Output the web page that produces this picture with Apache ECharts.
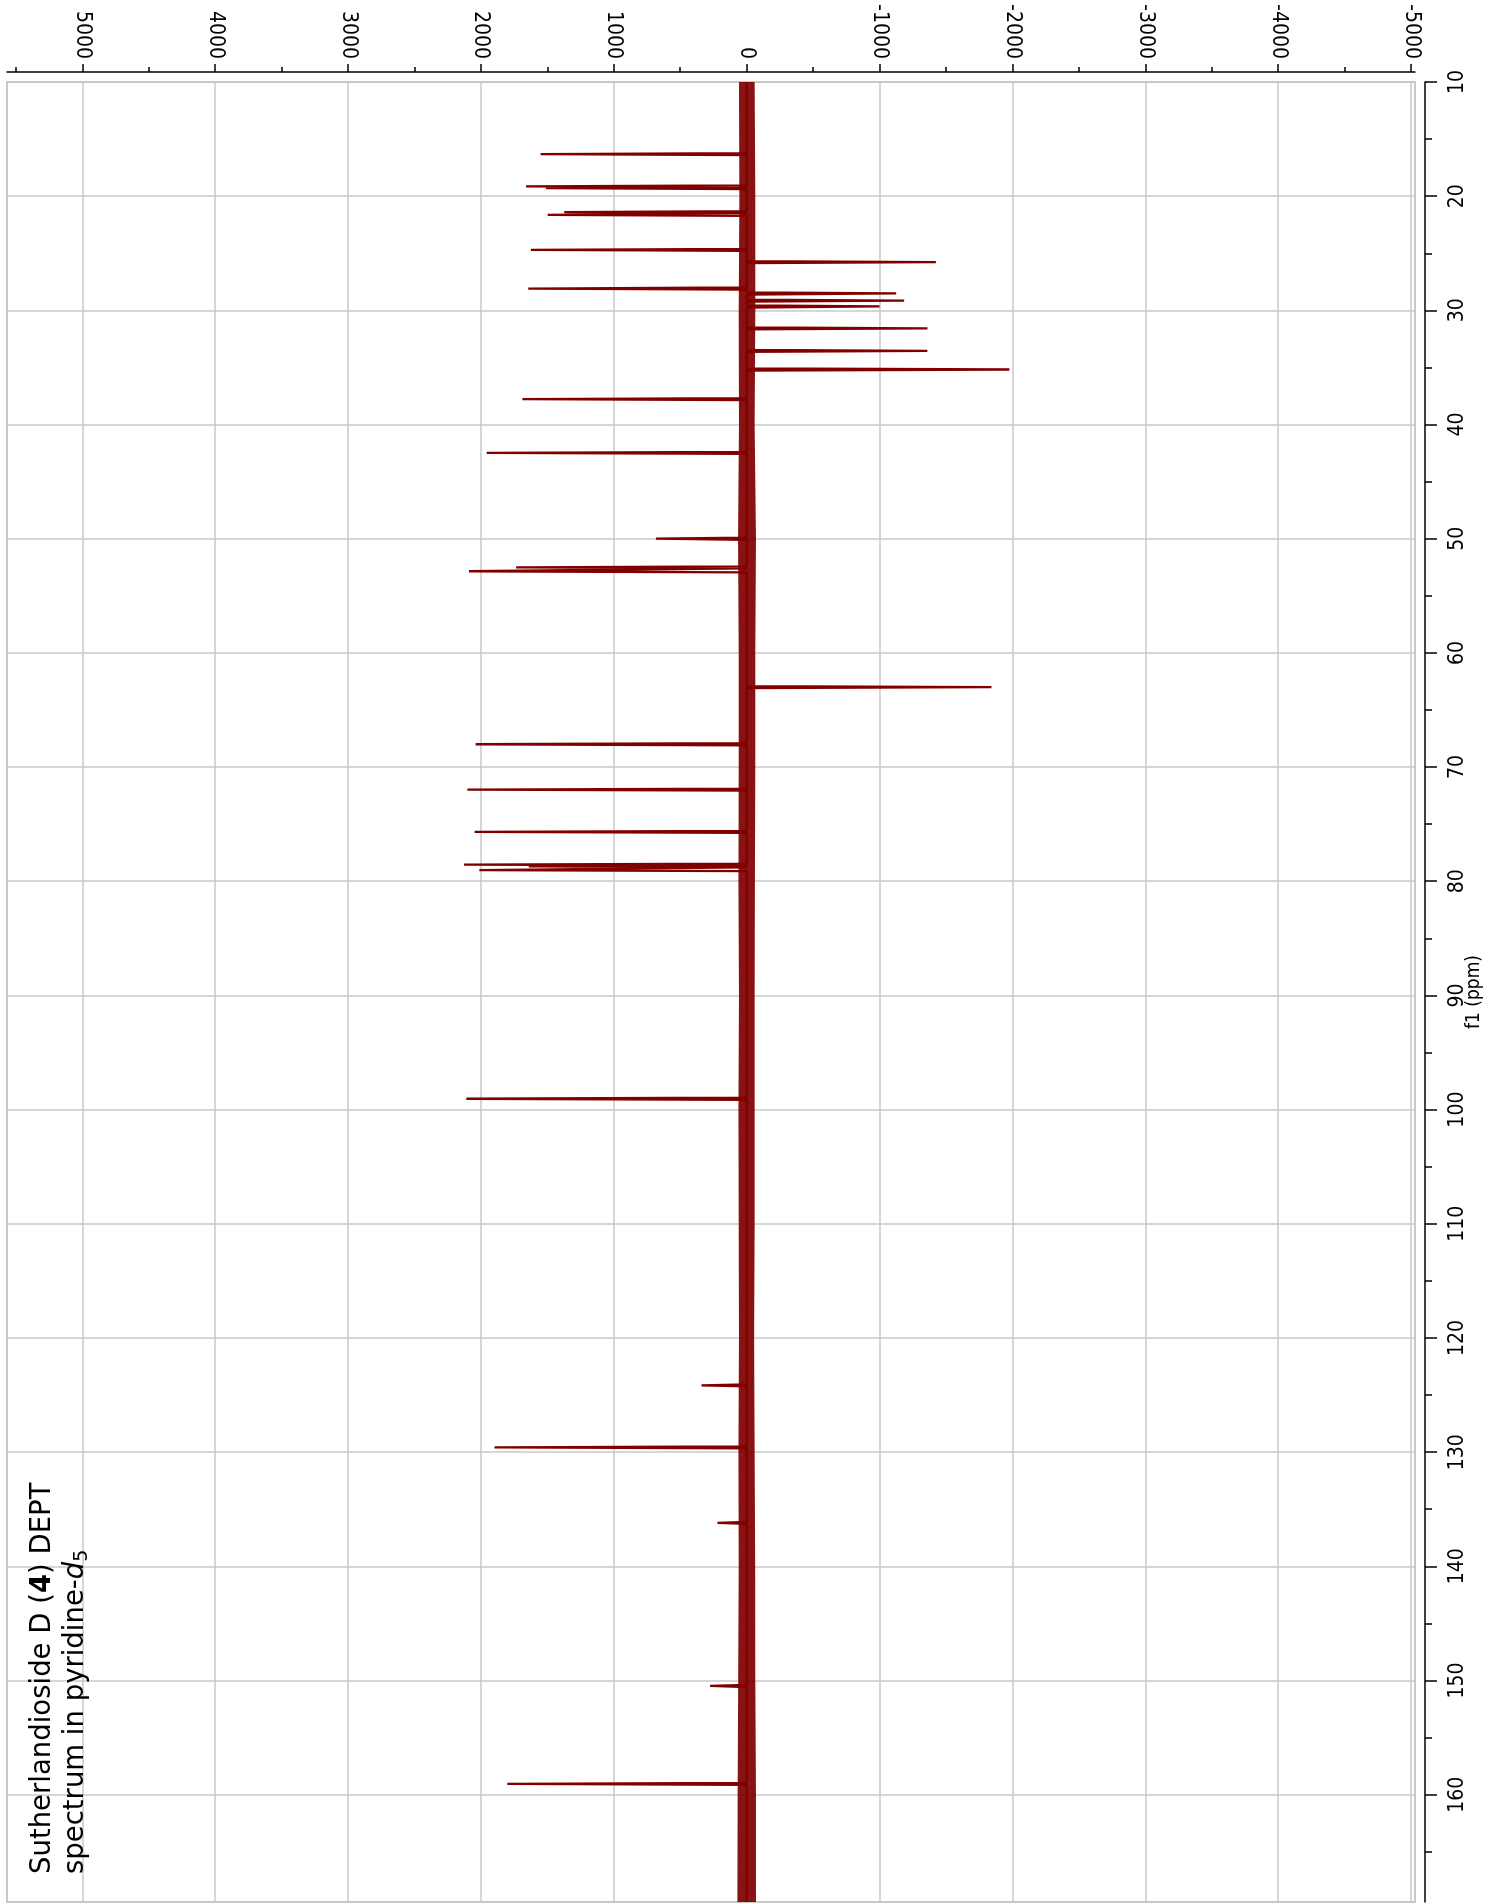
<!DOCTYPE html>
<html>
<head>
<meta charset="utf-8">
<script src="https://cdn.jsdelivr.net/npm/echarts@6/dist/echarts.min.js"></script>
<style>
html,body{margin:0;padding:0;background:#ffffff;}
#chart{width:1489px;height:1904px;}
</style>
</head>
<body>
<div id="chart"></div>
<script>
// ---- Data ----
// Peak positions (ppm) and intensities (positive = CH/CH3, negative = CH2)
const peakPpm = [16.32, 19.15, 19.30, 21.40, 21.64, 24.70, 25.78, 28.09, 28.52, 29.15, 29.66,
                 31.58, 33.55, 35.18, 37.77, 42.48, 50.00, 52.51, 52.85, 63.00, 68.00, 71.98,
                 75.67, 78.55, 78.70, 79.03, 99.05, 124.15, 129.58, 136.20, 150.48, 159.05];
const peakIntensity = [1551, 1661, 1511, 1373, 1498, 1624, -1424, 1644, -1125, -1185, -1000,
                       -1361, -1360, -1977, 1688, 1957, 683, 1735, 2090, -1842, 2040, 2102,
                       2048, 2127, 1640, 2012, 2110, 340, 1898, 220, 275, 1802];
// Baseline noise envelope (ppm, upper and lower intensity of the noise band)
const noisePpm  = [10, 20, 30, 40, 50, 60, 70, 80, 90, 100, 110, 120, 130, 140, 150, 160, 170];
const noiseHigh = [58, 55, 60, 58, 65, 60, 60, 62, 58, 62, 60, 58, 62, 60, 64, 68, 70];
const noiseLow  = [-60, -65, -65, -60, -70, -65, -65, -62, -60, -60, -60, -56, -60, -64, -65, -70, -70];
// Axis tick / label values
const intensityLabelValues = [-5000, -4000, -3000, -2000, -1000, 0, 1000, 2000, 3000, 4000, 5000];
const intensityTickValues = [-5000, -4500, -4000, -3500, -3000, -2500, -2000, -1500, -1000, -500, 0,
                             500, 1000, 1500, 2000, 2500, 3000, 3500, 4000, 4500, 5000, 5500];
const ppmLabelValues = [10, 20, 30, 40, 50, 60, 70, 80, 90, 100, 110, 120, 130, 140, 150, 160];
const ppmTickValues = [10, 15, 20, 25, 30, 35, 40, 45, 50, 55, 60, 65, 70, 75, 80, 85, 90, 95, 100,
                       105, 110, 115, 120, 125, 130, 135, 140, 145, 150, 155, 160, 165];

// ---- Build spectrum trace from peaks ----
const PPM_MIN = 10, PPM_MAX = 169.4;
const INT_MIN = -5030, INT_MAX = 5567;
const HALF = 0.09;
const spectrum = [[0, PPM_MIN]];
peakPpm.forEach(function (p, i) {
  spectrum.push([0, p - HALF]);
  spectrum.push([peakIntensity[i], p]);
  spectrum.push([0, p + HALF]);
});
spectrum.push([0, PPM_MAX]);

const axisFont = "'Liberation Sans Narrow','DejaVu Sans Condensed','Liberation Sans',sans-serif";
const gridColor = '#c8c8c8';
const lineColor = '#800000';

const chart = echarts.init(document.getElementById('chart'), null, {renderer: 'canvas'});

function xAxisBase() {
  return {type: 'value', gridIndex: 0, position: 'top', offset: 10, inverse: true,
          min: INT_MIN, max: INT_MAX};
}
function yAxisBase() {
  return {type: 'value', gridIndex: 0, position: 'right', offset: 10, inverse: true,
          min: PPM_MIN, max: PPM_MAX};
}
function plain(v) { return String(v); }

const option = {
  animation: false,
  backgroundColor: '#ffffff',
  grid: {left: 7, right: 74, top: 82, bottom: 2, show: true, borderColor: gridColor,
         borderWidth: 2, containLabel: false, outerBoundsMode: 'none'},
  xAxis: [
    Object.assign(xAxisBase(), {
      axisLine: {show: true, onZero: false, lineStyle: {color: '#000', width: 1.5}},
      axisTick: {show: true, customValues: intensityTickValues, length: 5, lineStyle: {color: '#000', width: 1.5}},
      axisLabel: {show: false},
      splitLine: {show: false}
    }),
    Object.assign(xAxisBase(), {
      axisLine: {show: false, onZero: false},
      axisTick: {show: true, customValues: intensityLabelValues, length: 8, lineStyle: {color: '#000', width: 1.5}},
      axisLabel: {show: true, customValues: intensityLabelValues, rotate: 90, margin: 13,
                  fontSize: 21, fontFamily: axisFont, color: '#000', formatter: plain},
      splitLine: {show: true, lineStyle: {color: gridColor, width: 1.5}}
    })
  ],
  yAxis: [
    Object.assign(yAxisBase(), {
      axisLine: {show: true, onZero: false, lineStyle: {color: '#000', width: 1.5}},
      axisTick: {show: true, customValues: ppmTickValues, length: 7, lineStyle: {color: '#000', width: 1.5}},
      axisLabel: {show: false},
      splitLine: {show: false}
    }),
    Object.assign(yAxisBase(), {
      axisLine: {show: false, onZero: false},
      axisTick: {show: true, customValues: ppmLabelValues, length: 12, lineStyle: {color: '#000', width: 1.5}},
      axisLabel: {show: true, customValues: ppmLabelValues, rotate: 90, margin: 22,
                  fontSize: 21, fontFamily: axisFont, color: '#000', formatter: plain},
      splitLine: {show: true, lineStyle: {color: gridColor, width: 1.5}},
      name: 'f1 (ppm)', nameLocation: 'middle', nameRotate: 90, nameGap: 40,
      nameMoveOverlap: false,
      nameTextStyle: {fontSize: 19, fontFamily: axisFont, color: '#000'}
    })
  ],
  series: [
    {
      type: 'custom',
      name: 'noise',
      xAxisIndex: 1, yAxisIndex: 1,
      clip: true,
      silent: true,
      data: [[0, PPM_MIN]],
      renderItem: function (params, api) {
        const pts = [];
        for (let i = 0; i < noisePpm.length; i++) pts.push(api.coord([noiseHigh[i], noisePpm[i]]));
        for (let i = noisePpm.length - 1; i >= 0; i--) pts.push(api.coord([noiseLow[i], noisePpm[i]]));
        return {type: 'polygon', shape: {points: pts}, style: {fill: 'rgba(128,0,0,0.93)'}};
      },
      z: 2
    },
    {
      type: 'line',
      name: 'DEPT',
      xAxisIndex: 1, yAxisIndex: 1,
      data: spectrum,
      showSymbol: false,
      symbol: 'none',
      clip: true,
      lineStyle: {color: lineColor, width: 2.3},
      z: 3
    }
  ],
  graphic: [
    {
      type: 'text',
      x: 26, y: 1874,
      rotation: Math.PI / 2,
      style: {
        text: '{n|Sutherlandioside D (}{b|4}{n|) DEPT}\n{n|spectrum in pyridine-}{i|d}{s|5}',
        align: 'left',
        verticalAlign: 'top',
        fill: '#000',
        rich: {
          n: {fontSize: 27.5, fontFamily: 'DejaVu Sans', lineHeight: 33, fill: '#000'},
          b: {fontSize: 27.5, fontFamily: 'DejaVu Sans', fontWeight: 'bold', lineHeight: 33, fill: '#000'},
          i: {fontSize: 27.5, fontFamily: 'DejaVu Sans', fontStyle: 'italic', lineHeight: 33, fill: '#000'},
          s: {fontSize: 19, fontFamily: 'DejaVu Sans', lineHeight: 20, verticalAlign: 'bottom', fill: '#000'}
        }
      },
      z: 10
    }
  ]
};
chart.setOption(option);
</script>
</body>
</html>
